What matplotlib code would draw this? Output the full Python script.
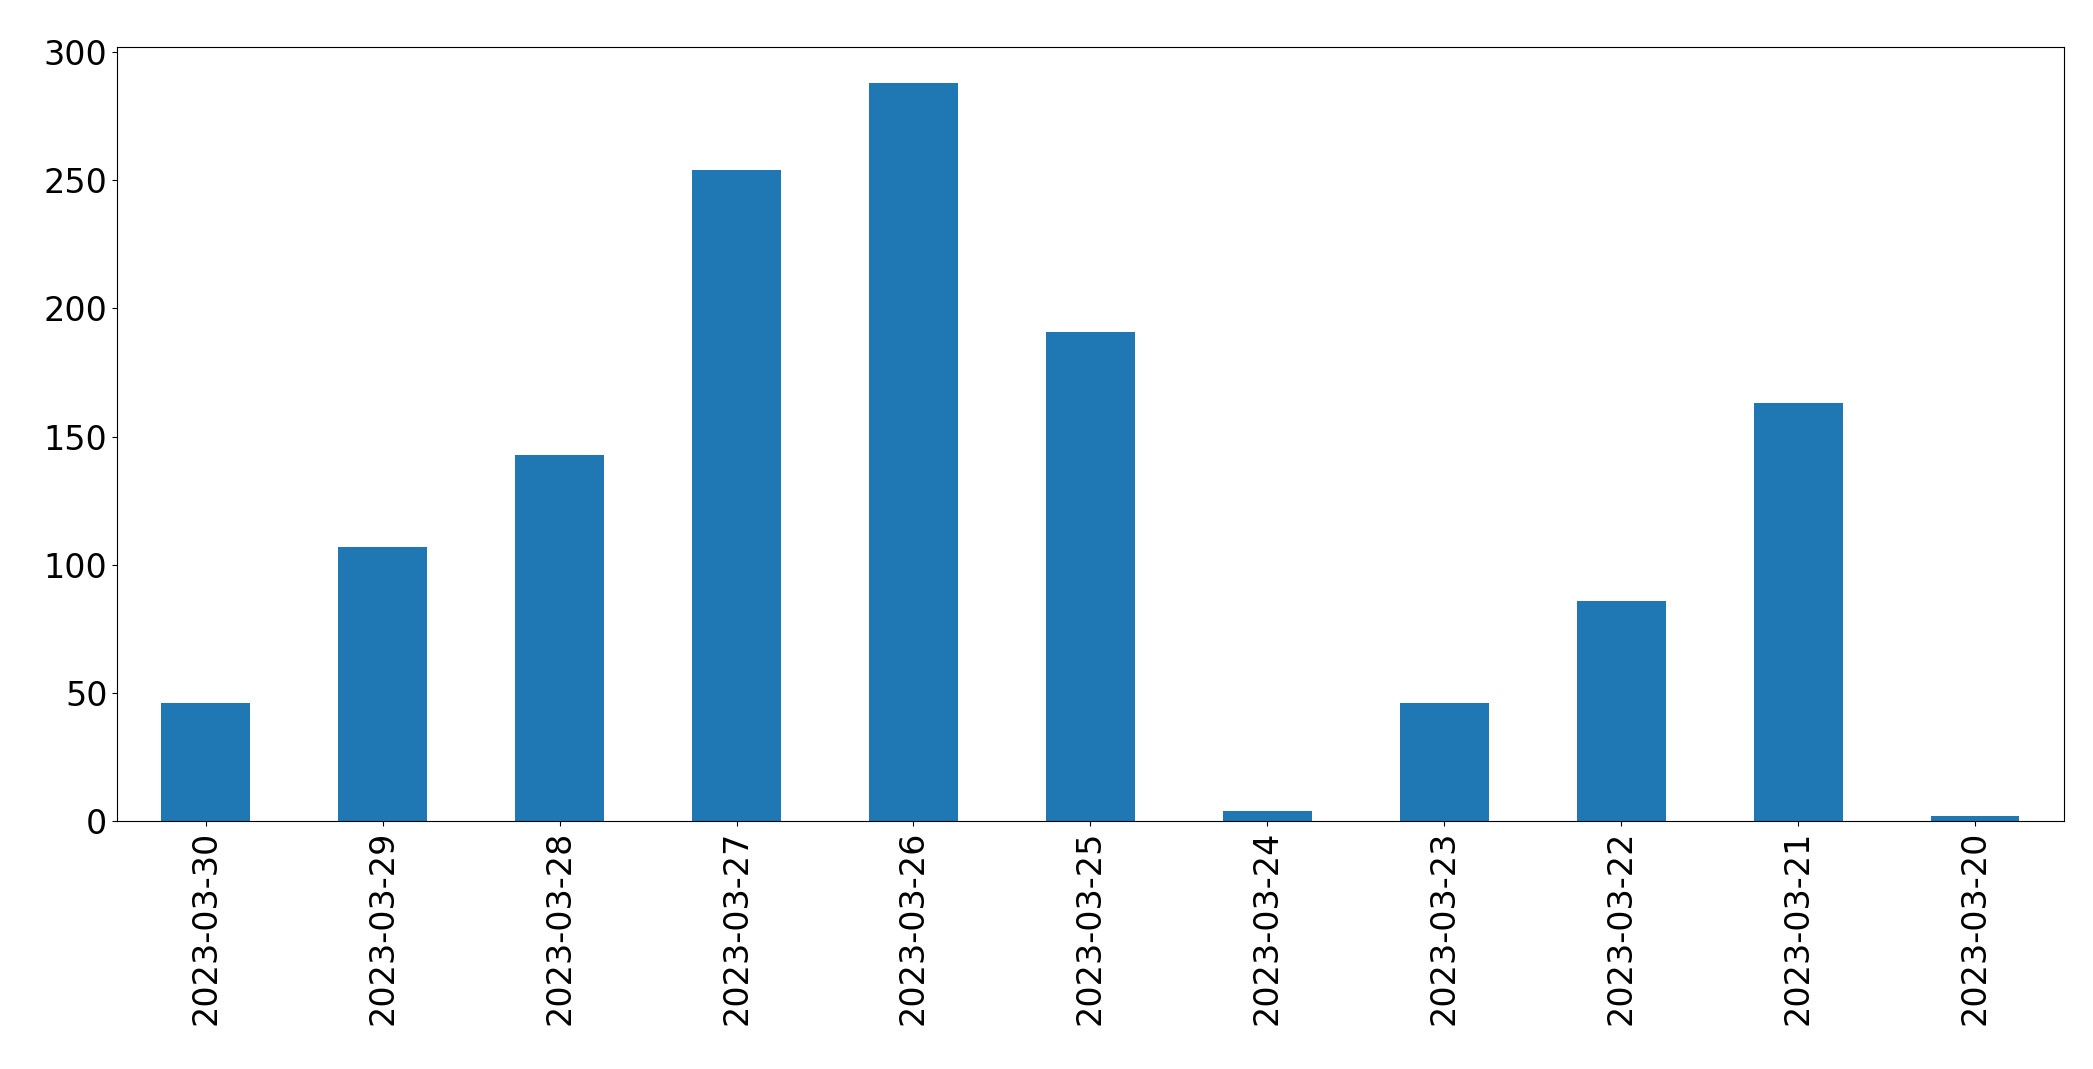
import matplotlib
matplotlib.use("Agg")
import matplotlib.pyplot as plt

dates = ["2023-03-30","2023-03-29","2023-03-28","2023-03-27","2023-03-26","2023-03-25",
         "2023-03-24","2023-03-23","2023-03-22","2023-03-21","2023-03-20"]
counts = [46, 107, 143, 254, 288, 191, 4, 46, 86, 163, 2]

fig = plt.figure(figsize=(20.93, 10.69), dpi=100)
ax = fig.add_axes([0.056, 0.232, 0.930, 0.724])
x = list(range(len(dates)))
ax.bar(x, counts, width=0.5, color="#1f77b4")
ax.set_xlim(-0.5, len(dates) - 0.5)
ax.set_ylim(0, 302)
ax.set_xticks(x)
ax.set_xticklabels(dates, rotation=90)
ax.tick_params(labelsize=24)
fig.savefig("out.png", dpi=100)
